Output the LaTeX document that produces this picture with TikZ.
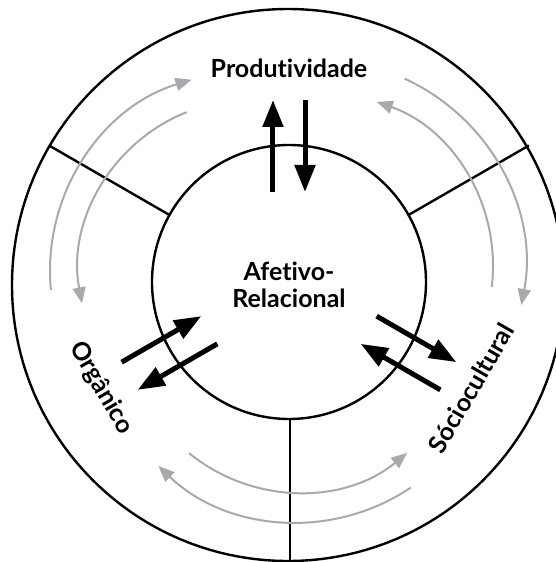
\documentclass[tikz,border=0pt]{standalone}
\usepackage{fontspec}
\setmainfont{Lato}[Ligatures=NoCommon]
\usetikzlibrary{arrows.meta}
\definecolor{cyclegray}{RGB}{167,169,172}
\begin{document}
\begin{tikzpicture}[x=0.5pt,y=0.5pt, line join=round,
    ring/.style={line width=1.2pt},
    bigarrow/.style={line width=2.5pt,-{Triangle[length=13.5pt,width=10pt]}},
    cyclearrow/.style={line width=1pt,draw=cyclegray,-{Triangle[length=8pt,width=6.5pt]}},
    sectorname/.style={font=\bfseries\fontsize{12.5}{13.3}\selectfont,align=center,inner sep=0pt}]
        \useasboundingbox (-289,-278) rectangle (267,284);

        \draw[ring] (-1,-1) circle[radius=276];
        \draw[ring] (0,2) circle[radius=137];
        \draw[ring] (150:137) -- (150:277);
        \draw[ring] (30:137) -- (30:277);
        \draw[ring] (1,-135) -- (1,-280);

        \coordinate (lc) at (-39,13);
        \coordinate (rc) at (30,18);
        \coordinate (bc) at (9,-36);
        \draw[cyclearrow] ([shift={(185.4:200)}]lc) arc[start angle=185.4,end angle=107,radius=200];
        \draw[cyclearrow] ([shift={(111.7:171)}]lc) arc[start angle=111.7,end angle=190.9,radius=171];
        \draw[cyclearrow] ([shift={(65.4:206)}]rc) arc[start angle=65.4,end angle=-10.9,radius=206];
        \draw[cyclearrow] ([shift={(-6.9:174)}]rc) arc[start angle=-6.9,end angle=70.6,radius=174];
        \draw[cyclearrow] ([shift={(230.7:172)}]bc) arc[start angle=230.7,end angle=309.4,radius=172];
        \draw[cyclearrow] ([shift={(303.9:202)}]bc) arc[start angle=303.9,end angle=226.3,radius=202];

        \foreach \ang in {0,120,240}{
            \draw[bigarrow,rotate=\ang] (-16,92) -- (-16,184);
            \draw[bigarrow,rotate=\ang] (16,184) -- (16,92);
        }

        \node[sectorname] (prod) at (0,216) {Produtividade};
        \node[sectorname] (afet) at (0,-1) {Afetivo-\\Relacional};
        \node[sectorname,rotate=-60] (org) at (-188,-104) {Orgânico};
        \node[sectorname,rotate=60] (socio) at (182,-104) {Sóciocultural};
    \end{tikzpicture}
\end{document}
